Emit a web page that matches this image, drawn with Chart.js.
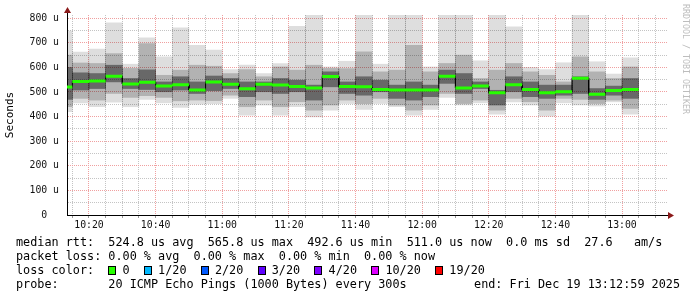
<!DOCTYPE html>
<html>
<head>
<meta charset="utf-8">
<script src="https://cdn.jsdelivr.net/npm/chart.js@4/dist/chart.umd.min.js"></script>
<style>
  body { margin: 0; background: #fff; }
  #wrap { position: relative; width: 697px; height: 297px; overflow: hidden; }
  #chart { position: absolute; left: 0; top: 0; }
  .legend {
    position: absolute; left: 16px; top: 234.5px; margin: 0;
    font-family: "DejaVu Sans Mono", monospace; font-size: 11.8px; line-height: 14px; color: #000;
  }
  .end {
    position: absolute; right: 17px; top: 276.5px; margin: 0;
    font-family: "DejaVu Sans Mono", monospace; font-size: 11.8px; line-height: 14px; color: #000;
  }
  .box {
    display: inline-block; width: 8px; height: 9px; margin-right: -0.9px;
    box-sizing: border-box; border: 1px solid #000; vertical-align: -1px;
  }
  .credit {
    position: absolute; left: 681px; top: 4px; margin: 0;
    writing-mode: vertical-rl; font-family: "DejaVu Sans Mono", monospace;
    font-size: 8.3px; line-height: 10px; color: #bdbdbd;
  }
</style>
</head>
<body>
<div id="wrap">
  <canvas id="chart" width="697" height="297"></canvas>
  <pre class="legend" id="legend"></pre>
  <pre class="end">end: Fri Dec 19 13:12:59 2025</pre>
  <div class="credit">RRDTOOL / TOBI OETIKER</div>
</div>
<script>
// 5 minute steps, start time of each step
const times = ['10:10', '10:15', '10:20', '10:25', '10:30', '10:35', '10:40', '10:45', '10:50', '10:55',
  '11:00', '11:05', '11:10', '11:15', '11:20', '11:25', '11:30', '11:35', '11:40', '11:45', '11:50', '11:55',
  '12:00', '12:05', '12:10', '12:15', '12:20', '12:25', '12:30', '12:35', '12:40', '12:45', '12:50', '12:55',
  '13:00'];

// rtt in microseconds
const maxRtt = [748, 662, 674, 781, 613, 720, 643, 761, 690, 670, 591, 609, 575, 616, 767, 850, 602, 625,
  850, 613, 850, 850, 602, 850, 850, 627, 850, 765, 600, 591, 619, 850, 623, 573, 639];
const minRtt = [420, 456, 440, 459, 440, 470, 456, 437, 451, 453, 474, 406, 447, 406, 440, 399, 426, 453,
  429, 453, 440, 406, 429, 478, 447, 456, 410, 460, 447, 402, 456, 447, 443, 460, 410];
const upperRtt = [650, 618, 616, 656, 596, 697, 568, 589, 609, 605, 575, 591, 562, 602, 589, 609, 596, 595,
  663, 582, 589, 690, 582, 616, 650, 555, 589, 616, 582, 568, 541, 643, 582, 555, 602];
const lowerRtt = [440, 474, 467, 494, 478, 485, 478, 464, 467, 465, 487, 440, 467, 440, 460, 426, 447, 467,
  453, 474, 447, 426, 447, 494, 453, 467, 426, 474, 460, 426, 474, 470, 453, 467, 433];
const coreHigh = [600, 578, 575, 609, 555, 590, 541, 562, 541, 565, 555, 541, 541, 555, 548, 528, 582, 541,
  562, 548, 528, 541, 528, 589, 575, 541, 507, 562, 541, 528, 528, 562, 514, 524, 555];
const coreLow = [470, 508, 514, 541, 514, 510, 501, 508, 494, 505, 514, 481, 501, 494, 501, 467, 521, 494,
  487, 501, 474, 467, 481, 535, 494, 514, 447, 501, 481, 474, 487, 494, 470, 487, 474];
const medianRtt = [520, 543, 545, 564, 533, 540, 524, 529, 508, 541, 531, 513, 531, 528, 522, 516, 563, 522,
  521, 510, 508, 508, 508, 564, 516, 524, 497, 529, 510, 497, 501, 556, 491, 506, 510];

const xTickLabels = ['10:20', '10:40', '11:00', '11:20', '11:40', '12:00', '12:20', '12:40', '13:00'];
const yTickValues = [0, 100, 200, 300, 400, 500, 600, 700, 800];

const lossLabels = ['0', '1/20', '2/20', '3/20', '4/20', '10/20', '19/20'];
const lossColors = ['#26ff00', '#00b8ff', '#0059ff', '#5e00ff', '#7e00ff', '#dd00ff', '#ff0000'];

const toMin = (t) => {
  const [h, m] = t.split(':').map(Number);
  return h * 60 + m;
};
const fmt = (v) => Math.floor(v / 60) + ':' + String(v % 60).padStart(2, '0');

// legend text
document.getElementById('legend').innerHTML =
  'median rtt:  524.8 us avg  565.8 us max  492.6 us min  511.0 us now  0.0 ms sd  27.6   am/s\n' +
  'packet loss: 0.00 % avg  0.00 % max  0.00 % min  0.00 % now\n' +
  'loss color:  ' + lossLabels.map((l, i) =>
    `<span class="box" style="background:${lossColors[i]}"></span> ${l}`).join('  ') + '\n' +
  'probe:       20 ICMP Echo Pings (1000 Bytes) every 300s';

function band(lo, hi, color, order) {
  return {
    type: 'bar',
    data: times.map((t, i) => ({ x: toMin(t) + 2.5, y: [lo[i], hi[i]] })),
    backgroundColor: color,
    borderWidth: 0,
    grouped: false,
    barPercentage: 1,
    categoryPercentage: 1,
    clip: 0,
    order: order,
  };
}

const medianPts = [];
const connectPts = [];
times.forEach((t, i) => {
  const s = toMin(t);
  medianPts.push({ x: s, y: medianRtt[i] }, { x: s + 5, y: medianRtt[i] }, { x: s + 5, y: null });
  connectPts.push({ x: s, y: medianRtt[i] }, { x: s + 5, y: medianRtt[i] });
});

const font = { family: '"DejaVu Sans Mono", monospace', size: 9.8 };
const red = '#f0a0a0';
const gray = '#c4c4c4';

const axisArrows = {
  id: 'axisArrows',
  afterDraw(chart) {
    const { ctx, chartArea: a } = chart;
    ctx.save();
    ctx.strokeStyle = '#000';
    ctx.lineWidth = 1;
    ctx.beginPath();
    ctx.moveTo(a.left + 0.5, a.top);
    ctx.lineTo(a.left + 0.5, a.top - 3);
    ctx.moveTo(a.right, a.bottom + 0.5);
    ctx.lineTo(a.right + 2, a.bottom + 0.5);
    ctx.stroke();
    ctx.fillStyle = '#8b1a1a';
    ctx.beginPath();
    ctx.moveTo(a.left - 3, a.top - 2);
    ctx.lineTo(a.left + 4, a.top - 2);
    ctx.lineTo(a.left + 0.5, a.top - 8);
    ctx.closePath();
    ctx.fill();
    ctx.beginPath();
    ctx.moveTo(a.right, a.bottom - 3);
    ctx.lineTo(a.right, a.bottom + 4);
    ctx.lineTo(a.right + 6, a.bottom + 0.5);
    ctx.closePath();
    ctx.fill();
    ctx.restore();
  },
};

const ctx = document.getElementById('chart').getContext('2d');
new Chart(ctx, {
  type: 'bar',
  data: {
    datasets: [
      {
        type: 'line',
        data: medianPts,
        borderColor: '#26ff00',
        borderWidth: 3,
        pointRadius: 0,
        spanGaps: false,
        borderCapStyle: 'butt',
        clip: 0,
        order: 0,
      },
      {
        type: 'line',
        data: connectPts,
        borderColor: '#000',
        borderWidth: 1,
        pointRadius: 0,
        clip: 0,
        order: 1,
      },
      band(coreLow, coreHigh, 'rgba(0,0,0,0.42)', 2),
      band(lowerRtt, upperRtt, 'rgba(0,0,0,0.2)', 3),
      band(minRtt, maxRtt, 'rgba(0,0,0,0.13)', 4),
    ],
  },
  options: {
    responsive: false,
    animation: false,
    layout: { padding: { left: 0, right: 29, top: 15, bottom: 67 } },
    plugins: { legend: { display: false }, tooltip: { enabled: false } },
    scales: {
      x: {
        type: 'linear',
        min: 613.4,
        max: 793.8,
        offset: false,
        afterBuildTicks: (s) => {
          s.ticks = [];
          for (let v = toMin(times[1]); v <= 790; v += 5) s.ticks.push({ value: v });
        },
        afterFit: (s) => { s.height = 15; },
        grid: {
          color: (c) => (c.tick && xTickLabels.includes(fmt(c.tick.value)) ? red : gray),
          tickColor: '#999',
          tickLength: 3,
          offset: false,
        },
        border: { color: '#000', dash: [1, 1] },
        ticks: {
          autoSkip: false,
          maxRotation: 0,
          padding: 2,
          font: font,
          color: '#111',
          callback: (v) => (xTickLabels.includes(fmt(v)) ? fmt(v) : ''),
        },
      },
      y: {
        min: 0,
        max: 813,
        afterBuildTicks: (s) => {
          s.ticks = [];
          for (let v = 0; v <= yTickValues[yTickValues.length - 1]; v += 50) s.ticks.push({ value: v });
        },
        afterFit: (s) => { s.width = 67; },
        grid: {
          color: (c) => (c.tick && yTickValues.includes(c.tick.value) ? red : gray),
          drawTicks: false,
        },
        border: { color: '#000', dash: [1, 1] },
        title: {
          display: true,
          text: 'Seconds',
          font: { family: '"DejaVu Sans Mono", monospace', size: 11 },
          color: '#000',
          padding: { top: 4, bottom: 0 },
        },
        ticks: {
          autoSkip: false,
          padding: 8,
          font: font,
          color: '#111',
          callback: (v) => (!yTickValues.includes(v) ? '' : v === 0 ? '0  ' : v + ' u'),
        },
      },
    },
  },
  plugins: [axisArrows],
});
</script>
</body>
</html>
